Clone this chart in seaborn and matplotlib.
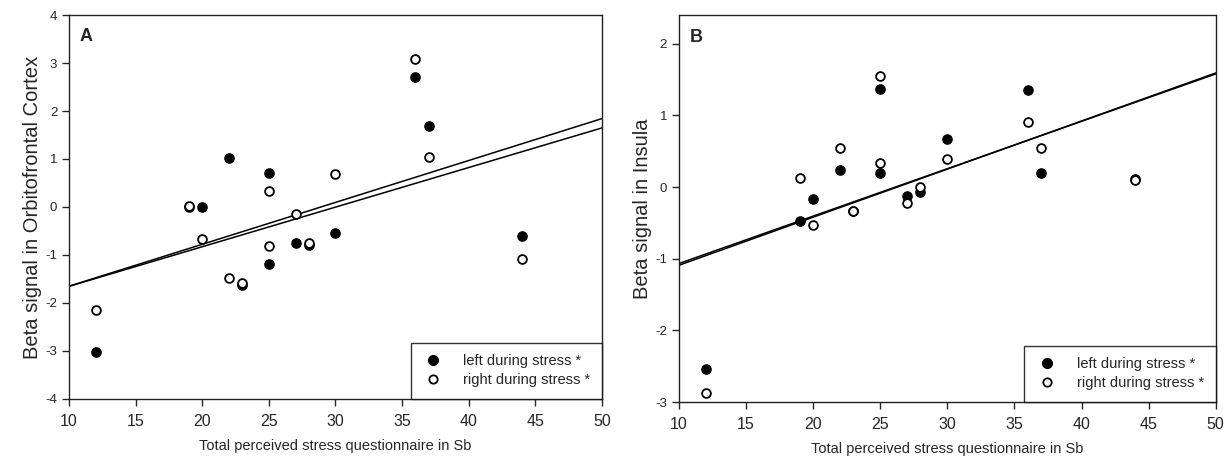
import matplotlib as mpl
import matplotlib.pyplot as plt
from matplotlib.lines import Line2D
import seaborn as sns
import pandas as pd
import numpy as np

# stress score per subject (Sb) and beta signals
stress = [12, 19, 20, 22, 23, 25, 25, 27, 28, 30, 36, 37, 44]
ofc_left = [-3.02, 0.00, 0.00, 1.03, -1.63, 0.70, -1.18, -0.76, -0.80, -0.55, 2.70, 1.69, -0.60]
ofc_right = [-2.15, 0.02, -0.66, -1.48, -1.58, 0.33, -0.81, -0.14, -0.74, 0.68, 3.08, 1.04, -1.09]
ins_left = [-2.54, -0.47, -0.17, 0.24, -0.33, 1.37, 0.19, -0.12, -0.07, 0.67, 1.35, 0.20, 0.11]
ins_right = [-2.87, 0.12, -0.53, 0.55, -0.33, 1.55, 0.33, -0.23, 0.00, 0.39, 0.91, 0.55, 0.10]

xlabel = 'Total perceived stress questionnaire in Sb'
legend_labels = ['left during stress *', 'right during stress *']

sns.set_style('ticks')
plt.rcParams['font.family'] = ['Liberation Sans', 'DejaVu Sans']
plt.rcParams['axes.unicode_minus'] = False

fig = plt.figure(figsize=(12.26, 4.66), dpi=100)
axA = fig.add_axes([0.0563, 0.1438, 0.4347, 0.824])
axB = fig.add_axes([0.5538, 0.1373, 0.4378, 0.8305])

panels = [
    (axA, ofc_left, ofc_right, 'Beta signal in Orbitofrontal Cortex', (-4, 4), 'A'),
    (axB, ins_left, ins_right, 'Beta signal in Insula', (-3, 2.4), 'B'),
]

for ax, left, right, ylabel, ylim, tag in panels:
    df = pd.DataFrame({'stress': stress, 'left': left, 'right': right})
    ax.set_xlim(10, 50)
    ax.set_ylim(*ylim)

    # regression lines over the full x range
    for col in ['left', 'right']:
        sns.regplot(data=df, x='stress', y=col, ax=ax, scatter=False, ci=None,
                    truncate=False, color='black', line_kws={'lw': 1.1})

    sns.scatterplot(data=df, x='stress', y='left', ax=ax, marker='o', s=44,
                    color='black', edgecolor='black', linewidth=1.0, zorder=3)
    sns.scatterplot(data=df, x='stress', y='right', ax=ax, marker='o', s=40,
                    color='white', edgecolor='black', linewidth=1.3, zorder=4)

    ax.set_xlim(10, 50)
    ax.set_ylim(*ylim)
    ax.set_xticks(np.arange(10, 51, 5))
    ax.set_yticks(np.arange(np.ceil(ylim[0]), np.floor(ylim[1]) + 1, 1))
    ax.tick_params(axis='x', direction='out', length=5, width=1, labelsize=11.5, pad=6)
    ax.tick_params(axis='y', direction='out', length=5, width=1, labelsize=9.5)
    for sp in ax.spines.values():
        sp.set_visible(True)
        sp.set_linewidth(1.0)
        sp.set_color('#222222')

    ax.set_xlabel(xlabel, fontsize=10.5, labelpad=7)
    ax.set_ylabel(ylabel, fontsize=14.5, labelpad=2)
    ax.text(0.02, 0.965, tag, transform=ax.transAxes, fontsize=13,
            fontweight='bold', va='top', ha='left')

    handles = [
        Line2D([], [], marker='o', ls='', ms=7, mfc='black', mec='black'),
        Line2D([], [], marker='o', ls='', ms=6, mfc='white', mec='black', mew=1.3),
    ]
    leg = ax.legend(handles, legend_labels, loc='lower right', borderaxespad=0,
                    frameon=True, fancybox=False, fontsize=10.5, handletextpad=1.3,
                    borderpad=0.8, labelspacing=0.35, handlelength=1.5)
    leg.get_frame().set_edgecolor('black')
    leg.get_frame().set_linewidth(1.0)

fig.savefig('out.png', dpi=100)
